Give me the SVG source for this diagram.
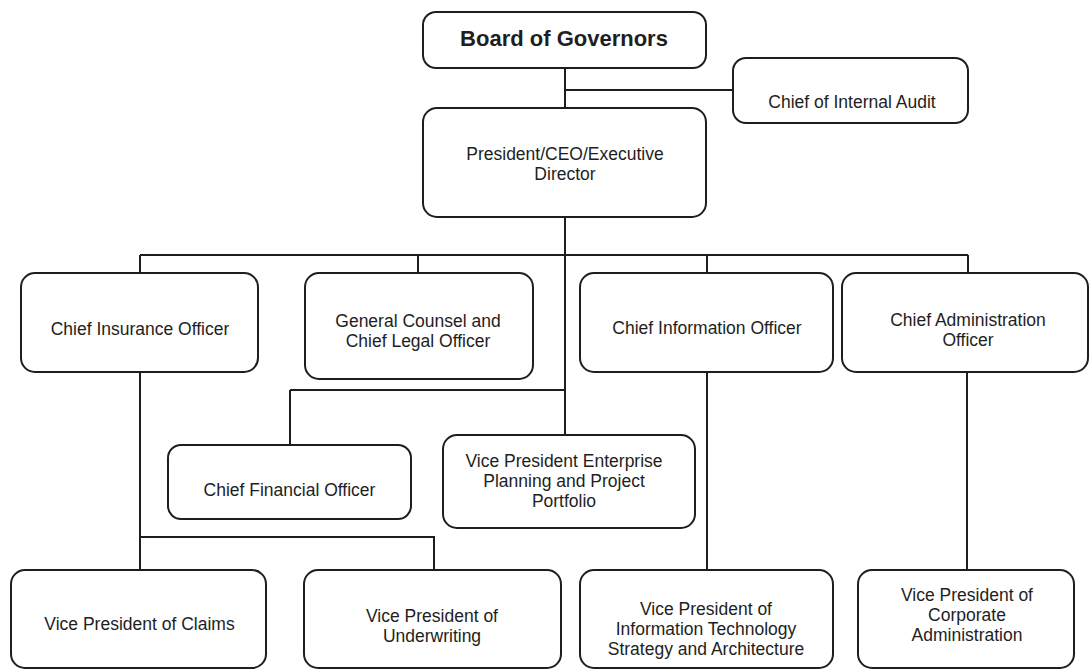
<svg xmlns="http://www.w3.org/2000/svg" width="1090" height="670" viewBox="0 0 1090 670">
<style>
.box{fill:#fff;stroke:#1e1e1e;stroke-width:2}
.t{font-family:"Liberation Sans",Arial,sans-serif;font-size:17.5px;fill:#1e1e1e;text-anchor:middle}
.b{font-weight:bold;font-size:22px}
.c{fill:none;stroke:#1e1e1e;stroke-width:2}
</style>
<rect width="1090" height="670" fill="#fff"/>
<g id="connectors" class="c">
<path d="M565 68V108"/>
<path d="M565 90H733"/>
<path d="M565 217V435"/>
<path d="M140 255H968"/>
<path d="M140 255V273M418 255V273M707 255V273M968 255V273"/>
<path d="M290 390H565M290 390V445"/>
<path d="M707 372V570"/>
<path d="M967 372V570"/>
<path d="M140 372V570M140 537H434V570"/>
</g>
<g id="board"><rect class="box" x="423" y="12" width="283" height="56" rx="13"/><text class="t b" x="564" y="46">Board of Governors</text></g>
<g id="audit"><rect class="box" x="733" y="58" width="235" height="65" rx="13"/><text class="t" x="852" y="108">Chief of Internal Audit</text></g>
<g id="president"><rect class="box" x="423" y="108" width="283" height="109" rx="14"/><text class="t" x="565" y="160">President/CEO/Executive</text><text class="t" x="565" y="180">Director</text></g>
<g id="cio-ins"><rect class="box" x="21" y="273" width="237" height="99" rx="14"/><text class="t" x="140" y="335">Chief Insurance Officer</text></g>
<g id="gc"><rect class="box" x="305" y="273" width="228" height="106" rx="14"/><text class="t" x="418" y="327">General Counsel and</text><text class="t" x="418" y="347">Chief Legal Officer</text></g>
<g id="cio"><rect class="box" x="580" y="273" width="253" height="99" rx="14"/><text class="t" x="707" y="334">Chief Information Officer</text></g>
<g id="cao"><rect class="box" x="842" y="273" width="246" height="99" rx="14"/><text class="t" x="968" y="326">Chief Administration</text><text class="t" x="968" y="346">Officer</text></g>
<g id="cfo"><rect class="box" x="168" y="445" width="243" height="74" rx="13"/><text class="t" x="289.5" y="496">Chief Financial Officer</text></g>
<g id="vpe"><rect class="box" x="443" y="435" width="252" height="93" rx="14"/><text class="t" x="564" y="467">Vice President Enterprise</text><text class="t" x="564" y="487">Planning and Project</text><text class="t" x="564" y="507">Portfolio</text></g>
<g id="vpclaims"><rect class="box" x="11" y="570" width="255" height="98" rx="14"/><text class="t" x="139.5" y="630">Vice President of Claims</text></g>
<g id="vpuw"><rect class="box" x="304" y="570" width="257" height="98" rx="14"/><text class="t" x="432" y="622">Vice President of</text><text class="t" x="432" y="642">Underwriting</text></g>
<g id="vpit"><rect class="box" x="580" y="570" width="253" height="98" rx="14"/><text class="t" x="706" y="615">Vice President of</text><text class="t" x="706" y="635">Information Technology</text><text class="t" x="706" y="655">Strategy and Architecture</text></g>
<g id="vpcorp"><rect class="box" x="858" y="570" width="216" height="98" rx="14"/><text class="t" x="967" y="601">Vice President of</text><text class="t" x="967" y="621">Corporate</text><text class="t" x="967" y="641">Administration</text></g>
</svg>
